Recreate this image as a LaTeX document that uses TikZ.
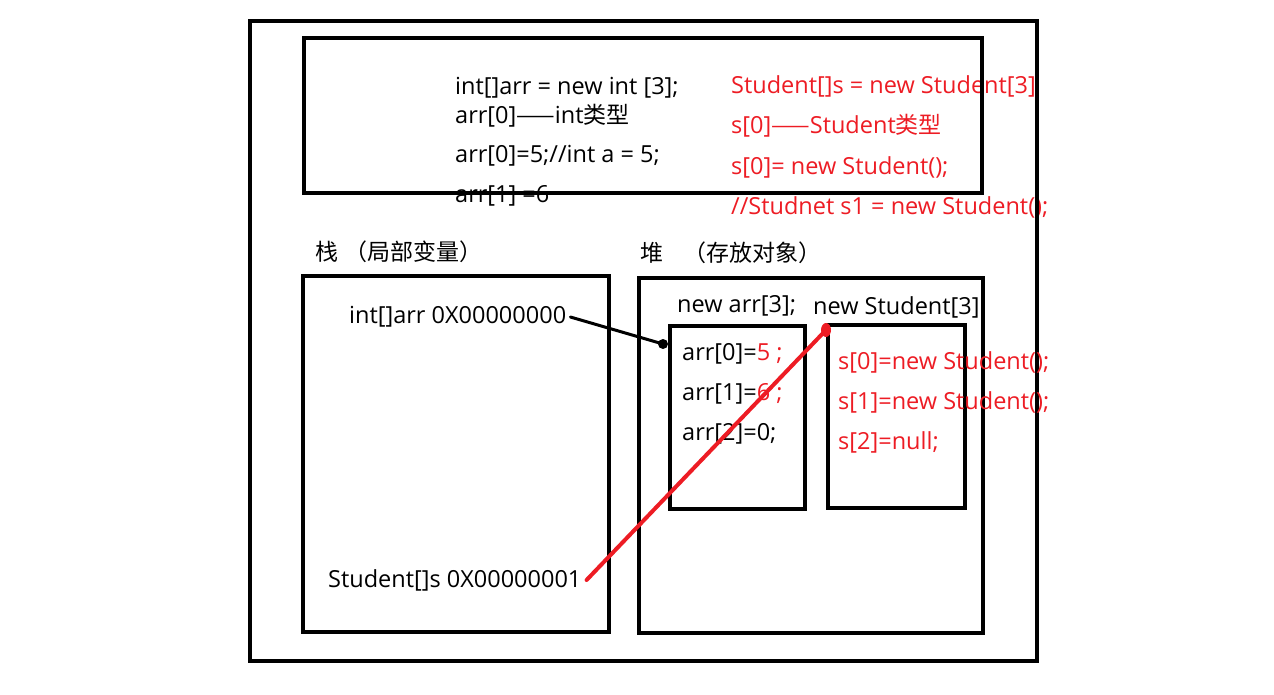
\documentclass[tikz,border=0pt]{standalone}
\usepackage{fontspec}
\setmainfont{Open Sans}
\newfontfamily\cjk{Noto Sans CJK SC}
\newcommand{\zh}[1]{{\cjk\fontsize{23}{26}\selectfont #1}}
\definecolor{pred}{RGB}{237,28,36}
\tikzset{
  box/.style={draw=black,line width=3.6pt},
  txt/.style={anchor=west,inner sep=0pt,font=\fontsize{23.5}{26}\selectfont},
  rtxt/.style={txt,text=pred},
  blk/.style={draw=black,line width=3pt},
  rln/.style={draw=pred,line width=4pt}
}
\begin{document}
\begin{tikzpicture}[x=1pt,y=-1pt]
\useasboundingbox (0,0) rectangle (1274,695);
% top code text
\node[txt] (t1) at (455,88) {int[]arr = new int [3];};
\node[txt] (t2) at (455,116) {arr[0]\zh{——}int\zh{类型}};
\node[txt] (t3) at (455,156) {arr[0]=5;//int a = 5;};
\node[txt] (t4) at (455,196) {arr[1] =6};
\node[rtxt] (r1) at (731,86) {Student[]s = new Student[3]};
\node[rtxt] (r2) at (731,126) {s[0]\zh{——}Student\zh{类型}};
\node[rtxt] (r3) at (731,167) {s[0]= new Student();};
\node[rtxt] (r4) at (731,207) {//Studnet s1 = new Student();};
% boxes
\draw[box] (250,21) rectangle (1037,661);
\draw[box] (304,38) rectangle (982,193);
\node[txt] (stacklbl) at (315,252) {\zh{栈}\hspace{6pt}\zh{（局部变量）}};
\node[txt] (heaplbl) at (640,253) {\zh{堆}\hspace{20pt}\zh{（存放对象）}};
\draw[box] (303,276) rectangle (609,632);
\draw[box] (639,278) rectangle (983,633);
\draw[box] (670,326) rectangle (805,509);
\draw[box] (828,325) rectangle (965,508);
% stack contents
\node[txt] (sarr) at (349,317) {int[]arr 0X00000000};
\node[txt] (sstu) at (328,580) {Student[]s 0X00000001};
% heap contents
\node[txt] (narr) at (677,306) {new arr[3];};
\node[txt] (nstu) at (813,307) {new Student[3]};
\node[txt] (a0) at (682,354) {arr[0]=\textcolor{pred}{5 ;}};
\node[txt] (a1) at (682,394) {arr[1]=\textcolor{pred}{6 ;}};
\node[txt] (a2) at (682,434) {arr[2]=0;};
\node[rtxt] (s0) at (838,362) {s[0]=new Student();};
\node[rtxt] (s1) at (838,402) {s[1]=new Student();};
\node[rtxt] (s2) at (838,442) {s[2]=null;};
% connectors
\coordinate (adot) at (663,344);
\coordinate (sdot) at (826,330);
\draw[blk,line cap=round] (sarr.east) ++(4,0) coordinate (astart) (astart) -- (adot);
\fill[black] (adot) circle (5);
\draw[rln,line cap=round] (sstu.east) ++(5,0) coordinate (sstart) (sstart) -- (sdot);
\fill[pred] (sdot) ellipse (5 and 7);
\end{tikzpicture}
\end{document}
